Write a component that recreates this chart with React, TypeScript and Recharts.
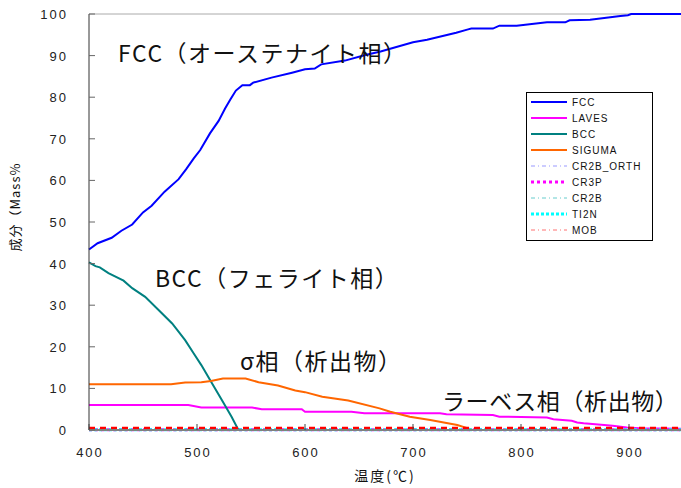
import { LineChart, Line, XAxis, YAxis, ReferenceLine } from 'recharts';

// 温度(℃) / 成分(Mass%) の読み取り値
const fcc: [number, number][] = [
  [400, 43.4], [408, 44.9], [421, 46.2], [430, 47.9], [440, 49.4], [450, 52.3],
  [458, 53.9], [470, 57.3], [483, 60.3], [490, 62.7], [497, 65.3], [503, 67.3],
  [512, 71.3], [520, 74.3], [526, 77.3], [531, 79.5], [536, 81.6], [542, 82.9],
  [549, 82.9], [552, 83.5], [569, 84.7], [588, 85.9], [600, 86.7], [609, 86.9],
  [615, 87.9], [637, 88.8], [655, 90.1], [670, 91.0], [700, 93.2], [713, 93.8],
  [740, 95.5], [751, 96.3], [754, 96.5], [774, 96.5], [780, 97.2], [796, 97.2],
  [824, 98.0], [841, 98.0], [845, 98.5], [864, 98.6], [892, 99.5], [899, 99.7],
  [902, 100], [950, 100],
];

const laves: [number, number][] = [
  [400, 6.0], [492, 6.0], [504, 5.4], [551, 5.4], [560, 5.0], [597, 5.0],
  [600, 4.4], [643, 4.4], [655, 4.0], [725, 4.0], [731, 3.8], [774, 3.6],
  [780, 3.2], [824, 3.0], [830, 2.6], [847, 2.2], [852, 1.8], [858, 1.6],
  [885, 1.0], [898, 0.6], [910, 0.4], [950, 0.3],
];

const bcc: [number, number][] = [
  [400, 40.3], [406, 39.4], [410, 39.1], [418, 37.7], [432, 35.9], [440, 34.1],
  [452, 32.0], [463, 29.2], [477, 25.6], [489, 21.6], [497, 18.4], [504, 15.6],
  [514, 11.2], [523, 7.2], [532, 3.2], [538, 0.2], [540, 0], [950, 0],
];

const siguma: [number, number][] = [
  [400, 11.0], [476, 11.0], [489, 11.4], [504, 11.5], [513, 11.8], [524, 12.4],
  [545, 12.4], [557, 11.5], [575, 10.7], [591, 9.5], [600, 9.1], [616, 8.0],
  [640, 7.1], [669, 5.2], [679, 4.4], [697, 3.2], [716, 2.4], [741, 1.2],
  [751, 0.4], [755, 0], [950, 0],
];

const cr2bOrth: [number, number][] = [[400, 0.1], [950, 0.1]];
const cr3p: [number, number][] = [[400, 0.05], [950, 0.05]];
const cr2b: [number, number][] = [[400, 0.05], [950, 0.05]];
const ti2n: [number, number][] = [[400, 0.05], [950, 0.05]];
const mob: [number, number][] = [[400, 0.4], [950, 0.4]];

const xTicks = [400, 500, 600, 700, 800, 900];
const yTicks = [0, 10, 20, 30, 40, 50, 60, 70, 80, 90, 100];

type Series = {
  name: string;
  values: [number, number][];
  color: string;
  width: number;
  dash?: string;
  legendColor?: string;
  legendWidth?: number;
  legendDash?: string;
};

const series: Series[] = [
  { name: 'FCC', values: fcc, color: '#0000FF', width: 2 },
  { name: 'LAVES', values: laves, color: '#FF00FF', width: 2 },
  { name: 'BCC', values: bcc, color: '#008080', width: 2 },
  { name: 'SIGUMA', values: siguma, color: '#FF6600', width: 2 },
  { name: 'CR2B_ORTH', values: cr2bOrth, color: '#9999FF', width: 1, dash: '4 3 1 3' },
  { name: 'CR3P', values: cr3p, color: '#FF00FF', width: 3, dash: '3 3' },
  { name: 'CR2B', values: cr2b, color: '#66CCCC', width: 1, dash: '4 3 1 3' },
  { name: 'TI2N', values: ti2n, color: '#00FFFF', width: 3, dash: '3 2' },
  {
    name: 'MOB', values: mob, color: '#FF0000', width: 3, dash: '6 5',
    legendColor: '#FF7070', legendWidth: 1, legendDash: '4 3 1 3',
  },
];

const tickFont = '"Liberation Sans", Arial, sans-serif';
const jpFont = '"Noto Sans CJK JP", sans-serif';

const YTick = (props: any) => {
  const { x, y, payload } = props;
  return (
    <g>
      <line x1={x} x2={x + 6} y1={y} y2={y} stroke="#666" />
      <text x={x - 21} y={y} dy={5} textAnchor="end" fontSize={13} fill="#222"
        fontFamily={tickFont} letterSpacing={2}>
        {payload.value}
      </text>
    </g>
  );
};

const XTick = (props: any) => {
  const { x, y, payload } = props;
  return (
    <g>
      <line x1={x} x2={x} y1={y} y2={y - 6} stroke="#444" />
      <text x={x + 1} y={y + 27} textAnchor="middle" fontSize={13} fill="#222"
        fontFamily={tickFont} letterSpacing={2}>
        {payload.value}
      </text>
    </g>
  );
};

function LegendBox() {
  return (
    <div style={{
      position: 'absolute', left: 526, top: 92,
      width: 125, height: 146, border: '1px solid #000', background: '#fff',
      boxSizing: 'content-box', paddingTop: 1,
    }}>
      {series.map((s) => (
        <div key={s.name} style={{ display: 'flex', alignItems: 'center', height: 16 }}>
          <svg width={44} height={16}>
            <line x1={4} x2={40} y1={8} y2={8}
              stroke={s.legendColor ?? s.color}
              strokeWidth={s.legendWidth ?? s.width}
              strokeDasharray={s.legendDash ?? s.dash} />
          </svg>
          <span style={{
            fontFamily: tickFont, fontSize: 10, letterSpacing: 1, color: '#111', marginLeft: 1,
          }}>{s.name}</span>
        </div>
      ))}
    </div>
  );
}

const note = (text: string, left: number, cy: number, spacing = 1.5) => (
  <div style={{
    position: 'absolute', left, top: cy - 12, height: 24, lineHeight: '24px',
    fontFamily: jpFont, fontSize: 23, letterSpacing: spacing, color: '#111', whiteSpace: 'nowrap',
  }}>{text}</div>
);

export default function App() {
  return (
    <div style={{
      position: 'absolute', left: 0, top: 0, width: 681, height: 488,
      overflow: 'hidden', background: '#fff',
    }}>
      <LineChart width={700} height={488} margin={{ top: 14, right: 17, left: 0, bottom: 0 }}>
        <XAxis type="number" dataKey="t" domain={[400, 950]} ticks={xTicks} height={58}
          allowDuplicatedCategory={false} tickSize={0} tickMargin={0} tickLine={false}
          tick={<XTick />} axisLine={{ stroke: '#808080', strokeWidth: 2 }} />
        <YAxis type="number" domain={[0, 100]} ticks={yTicks} width={89}
          tickSize={0} tickMargin={0} tickLine={false}
          tick={<YTick />} axisLine={{ stroke: '#333' }} />
        <ReferenceLine y={100} stroke="#aaa" />
        {series.map((s) => (
          <Line key={s.name} name={s.name} type="linear"
            data={s.values.map(([t, v]) => ({ t, v }))} dataKey="v"
            stroke={s.color} strokeWidth={s.width} strokeDasharray={s.dash}
            dot={false} activeDot={false} isAnimationActive={false} />
        ))}
      </LineChart>

      <LegendBox />

      {note('FCC（オーステナイト相）', 118, 52)}
      {note('BCC（フェライト相）', 155, 277)}
      {note('σ相（析出物）', 240, 360)}
      {note('ラーベス相（析出物）', 442, 400, 0.6)}

      <div style={{
        position: 'absolute', left: 14, top: 207, transform: 'translate(-50%, -50%) rotate(-90deg)',
        fontFamily: jpFont, fontSize: 13, letterSpacing: 1, whiteSpace: 'nowrap', color: '#111',
      }}>成分（Mass%</div>
      <div style={{
        position: 'absolute', left: 385, top: 475, transform: 'translate(-50%, -50%)',
        fontFamily: jpFont, fontSize: 14, letterSpacing: 2, whiteSpace: 'nowrap', color: '#111',
      }}>温度(℃)</div>
    </div>
  );
}
